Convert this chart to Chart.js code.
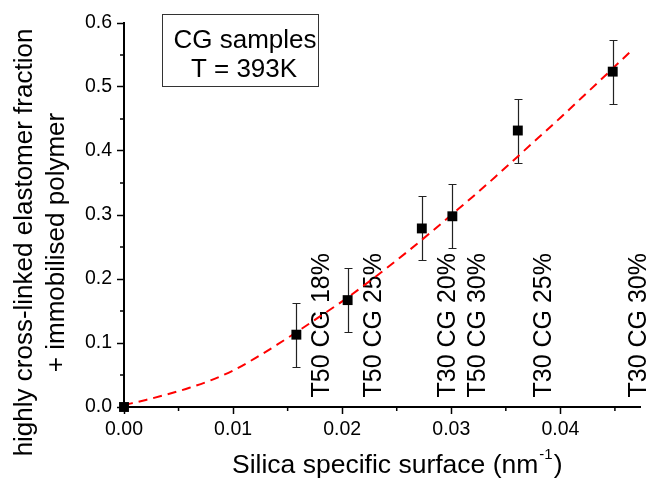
<!DOCTYPE html>
<html>
<head>
<meta charset="utf-8">
<script src="https://cdn.jsdelivr.net/npm/chart.js@4.4.1/dist/chart.umd.min.js"></script>
<style>
  body { margin: 0; background: #fff; }
  canvas { display: block; }
</style>
</head>
<body>
<canvas id="myChart" width="647" height="484"></canvas>
<script>
// measured samples (silica specific surface vs. fraction)
const sampleX = [0, 0.0158, 0.0205, 0.0273, 0.0301, 0.0361, 0.0448]
const sampleY = [0, 0.113, 0.167, 0.279, 0.298, 0.432, 0.524]
const sampleErr = [0, 0.05, 0.05, 0.05, 0.05, 0.05, 0.05]
const sampleNames = ['', 'T50 CG 18%', 'T50 CG 25%', 'T30 CG 20%', 'T50 CG 30%', 'T30 CG 25%', 'T30 CG 30%']

// fitted curve
const fitX = [0, 0.002, 0.004, 0.006, 0.008, 0.010, 0.012, 0.014, 0.016, 0.018, 0.020, 0.022,
              0.024, 0.026, 0.028, 0.030, 0.032, 0.034, 0.036, 0.038, 0.040, 0.042, 0.044, 0.0464]
const fitY = [0.003, 0.011, 0.020, 0.030, 0.042, 0.057, 0.076, 0.097, 0.119, 0.142, 0.165, 0.190,
              0.216, 0.243, 0.271, 0.300, 0.329, 0.359, 0.390, 0.421, 0.452, 0.484, 0.516, 0.555]

const xTickValues = [0, 0.01, 0.02, 0.03, 0.04]
const xTickLabels = ['0.00', '0.01', '0.02', '0.03', '0.04']
const xMinorTicks = [0.005, 0.015, 0.025, 0.035, 0.045]
const yTickValues = [0, 0.1, 0.2, 0.3, 0.4, 0.5, 0.6]
const yTickLabels = ['0.0', '0.1', '0.2', '0.3', '0.4', '0.5', '0.6']
const yMinorTicks = [0.05, 0.15, 0.25, 0.35, 0.45, 0.55]

const FONT = '"Liberation Sans", Arial, sans-serif'

const extras = {
    id: 'extras',
    beforeDatasetsDraw(chart) {
        const {ctx, scales: {x, y}} = chart
        ctx.save()
        // sample names standing on the x axis
        ctx.font = '25px ' + FONT
        ctx.fillStyle = '#000'
        ctx.textAlign = 'left'
        ctx.textBaseline = 'alphabetic'
        for (let i = 0; i < sampleNames.length; i++) {
            if (!sampleNames[i]) continue
            ctx.save()
            ctx.translate(x.getPixelForValue(sampleX[i]) + 33, y.getPixelForValue(0) - 9.5)
            ctx.rotate(-Math.PI / 2)
            ctx.fillText(sampleNames[i], 0, 0)
            ctx.restore()
        }
        // error bars
        ctx.strokeStyle = '#222'
        ctx.lineWidth = 1.2
        for (let i = 0; i < sampleX.length; i++) {
            if (!sampleErr[i]) continue
            const px = Math.round(x.getPixelForValue(sampleX[i])) + 0.5
            const top = Math.round(y.getPixelForValue(sampleY[i] + sampleErr[i])) + 0.5
            const bot = Math.round(y.getPixelForValue(sampleY[i] - sampleErr[i])) + 0.5
            ctx.beginPath()
            ctx.moveTo(px, top)
            ctx.lineTo(px, bot)
            ctx.moveTo(px - 4, top)
            ctx.lineTo(px + 4, top)
            ctx.moveTo(px - 4, bot)
            ctx.lineTo(px + 4, bot)
            ctx.stroke()
        }
        ctx.restore()
    },
    afterDraw(chart) {
        const {ctx, scales: {x, y}} = chart
        ctx.save()
        // minor ticks
        ctx.strokeStyle = '#000'
        ctx.lineWidth = 1.5
        ctx.beginPath()
        for (const v of xMinorTicks) {
            const px = x.getPixelForValue(v)
            ctx.moveTo(px, x.top)
            ctx.lineTo(px, x.top + 4)
        }
        for (const v of yMinorTicks) {
            const py = y.getPixelForValue(v)
            ctx.moveTo(y.right, py)
            ctx.lineTo(y.right - 4, py)
        }
        ctx.stroke()

        // y axis title, two lines
        ctx.fillStyle = '#000'
        ctx.font = '26px ' + FONT
        ctx.textAlign = 'center'
        ctx.textBaseline = 'alphabetic'
        ctx.save()
        ctx.translate(0, 242.5)
        ctx.rotate(-Math.PI / 2)
        ctx.fillText('highly cross-linked elastomer fraction', 0, 32)
        ctx.fillText('+ immobilised polymer', 0, 64)
        ctx.restore()

        // x axis title with superscript
        ctx.textAlign = 'left'
        ctx.font = '26.5px ' + FONT
        const main = 'Silica specific surface (nm'
        let tx = 232
        ctx.fillText(main, tx, 473)
        tx += ctx.measureText(main).width + 1
        ctx.font = '15px ' + FONT
        ctx.fillText('-1', tx, 459)
        tx += ctx.measureText('-1').width + 1
        ctx.font = '26.5px ' + FONT
        ctx.fillText(')', tx, 473)

        // annotation box
        ctx.strokeStyle = '#333'
        ctx.lineWidth = 1
        ctx.strokeRect(162.5, 14.5, 156, 72)
        ctx.font = '26px ' + FONT
        ctx.textAlign = 'center'
        ctx.fillText('CG samples', 245, 48)
        ctx.fillText('T = 393K', 244, 77)
        ctx.restore()
    }
}

const ctx = document.getElementById('myChart').getContext('2d')

new Chart(ctx, {
    type: 'scatter',
    data: {
        datasets: [{
            type: 'scatter',
            data: sampleX.map((v, i) => ({x: v, y: sampleY[i]})),
            pointStyle: 'rect',
            pointRadius: 7,
            pointBackgroundColor: '#000',
            pointBorderWidth: 0,
            clip: false,
        }, {
            type: 'line',
            data: fitX.map((v, i) => ({x: v, y: fitY[i]})),
            borderColor: '#ff0000',
            borderWidth: 2,
            borderDash: [9, 6],
            pointRadius: 0,
            fill: false,
            cubicInterpolationMode: 'monotone',
        }]
    },
    options: {
        responsive: false,
        animation: false,
        events: [],
        layout: { padding: { left: 0, top: 23, right: 6, bottom: 0 } },
        plugins: {
            legend: { display: false },
            tooltip: { enabled: false },
        },
        scales: {
            x: {
                type: 'linear',
                min: 0,
                max: 0.0473,
                afterBuildTicks: s => { s.ticks = xTickValues.map(v => ({value: v})) },
                afterFit: s => { s.height = 77 },
                grid: { drawOnChartArea: false, tickLength: 7, tickColor: '#000', tickWidth: 1.5 },
                border: { color: '#000', width: 2 },
                ticks: {
                    color: '#000',
                    font: { size: 19.5, family: FONT },
                    padding: 4,
                    maxRotation: 0,
                    autoSkip: false,
                    callback: (v, i) => xTickLabels[i],
                },
            },
            y: {
                type: 'linear',
                min: 0,
                max: 0.6,
                afterBuildTicks: s => { s.ticks = yTickValues.map(v => ({value: v})) },
                afterFit: s => { s.width = 124 },
                grid: { drawOnChartArea: false, tickLength: 7, tickColor: '#000', tickWidth: 1.5 },
                border: { color: '#000', width: 2 },
                ticks: {
                    color: '#000',
                    font: { size: 19.5, family: FONT },
                    padding: 5,
                    autoSkip: false,
                    callback: (v, i) => yTickLabels[i],
                },
            },
        },
    },
    plugins: [extras],
})
</script>
</body>
</html>
